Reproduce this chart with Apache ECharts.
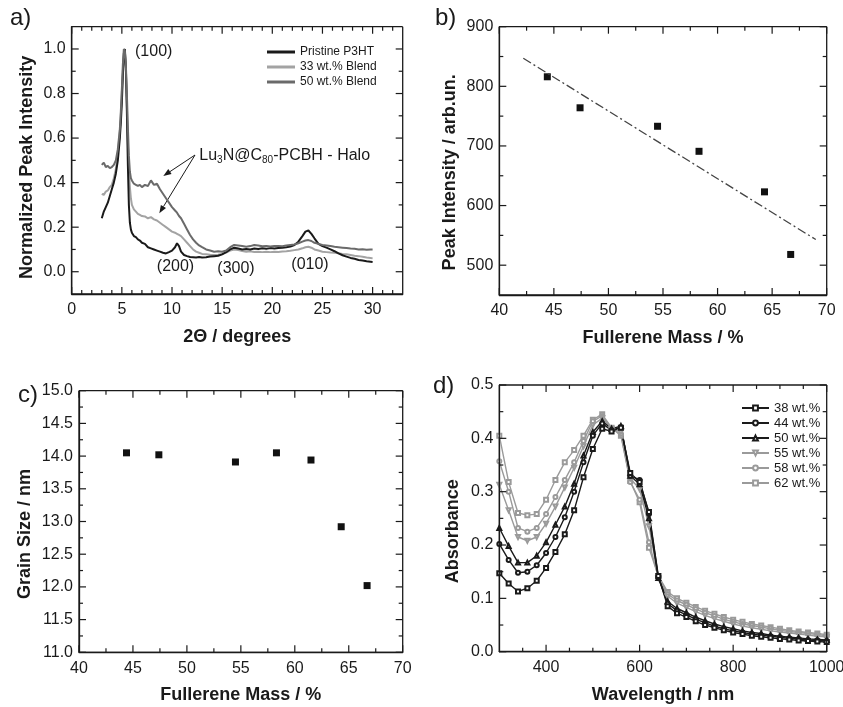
<!DOCTYPE html>
<html><head><meta charset="utf-8">
<script src="https://cdn.jsdelivr.net/npm/echarts@6/dist/echarts.min.js"></script>
<style>html,body{margin:0;padding:0;background:#fff}#chart{width:843px;height:707px}</style>
</head><body><div id="chart"></div>
<script>
// ---------- Panel a: XRD ----------
const twoTheta = [3.0,3.2,3.4,3.6,3.8,4.0,4.2,4.4,4.6,4.8,
  4.9,5.0,5.1,5.2,5.3,5.4,5.5,5.6,5.7,5.8,5.9,6.0,
  6.2,6.4,6.6,6.8,7.0,
  7.3,7.6,7.9,8.2,8.5,8.8,9.1,9.4,9.7,10.0,
  10.3,10.5,10.7,10.9,
  11.2,11.5,11.8,12.1,12.4,12.7,13.0,
  13.4,13.8,14.2,14.6,15.0,15.4,15.8,16.2,16.6,17.0,17.4,17.8,18.2,18.6,19.0,19.4,19.8,20.2,20.6,21.0,21.4,21.8,22.2,22.6,23.0,
  23.3,23.6,23.9,24.2,
  24.6,25.0,25.4,25.8,26.2,26.6,27.0,27.4,27.8,28.2,28.6,29.0,29.4,29.8,30.0];
const pristineP3HT = [0.24,0.27,0.29,0.31,0.34,0.37,0.40,0.44,0.50,0.60,
  0.67,0.76,0.88,0.98,1.0,0.92,0.72,0.48,0.30,0.22,0.19,0.175,
  0.16,0.155,0.145,0.14,0.13,
  0.125,0.11,0.105,0.10,0.095,0.09,0.085,0.082,0.088,0.095,
  0.11,0.128,0.115,0.09,
  0.075,0.07,0.066,0.065,0.064,0.066,0.064,
  0.065,0.068,0.07,0.072,0.078,0.088,0.10,0.108,0.104,0.10,0.102,0.10,0.104,0.102,0.105,0.103,0.106,0.104,0.107,0.108,0.11,0.113,0.12,0.135,0.16,
  0.18,0.185,0.17,0.15,
  0.125,0.115,0.108,0.10,0.092,0.082,0.074,0.068,0.062,0.058,0.053,0.05,0.047,0.045,0.044];
const blend33 = [0.35,0.345,0.36,0.365,0.38,0.39,0.42,0.46,0.53,0.63,
  0.70,0.80,0.90,0.97,0.98,0.90,0.75,0.58,0.46,0.38,0.33,0.30,
  0.28,0.27,0.26,0.255,0.25,
  0.248,0.24,0.245,0.235,0.23,0.22,0.21,0.20,0.19,0.18,
  0.175,0.17,0.165,0.16,
  0.145,0.13,0.115,0.10,0.09,0.085,0.08,
  0.078,0.076,0.075,0.076,0.08,0.086,0.095,0.10,0.097,0.093,0.09,0.092,0.089,0.09,0.088,0.09,0.088,0.09,0.089,0.091,0.092,0.094,0.097,0.10,0.105,
  0.11,0.112,0.108,0.10,
  0.095,0.09,0.088,0.086,0.085,0.083,0.08,0.078,0.075,0.072,0.07,0.067,0.064,0.062,0.06];
const blend50 = [0.48,0.49,0.47,0.475,0.465,0.47,0.48,0.50,0.55,0.64,
  0.72,0.82,0.93,1.0,0.99,0.93,0.80,0.65,0.52,0.45,0.42,0.41,
  0.395,0.39,0.385,0.39,0.38,
  0.39,0.385,0.41,0.39,0.395,0.37,0.35,0.33,0.31,0.29,
  0.275,0.265,0.25,0.24,
  0.215,0.19,0.165,0.145,0.13,0.118,0.11,
  0.10,0.095,0.09,0.092,0.09,0.095,0.11,0.12,0.118,0.115,0.112,0.115,0.12,0.118,0.114,0.116,0.113,0.115,0.116,0.114,0.118,0.12,0.122,0.128,0.135,
  0.14,0.142,0.138,0.13,
  0.125,0.12,0.118,0.115,0.112,0.11,0.108,0.106,0.104,0.103,0.10,0.101,0.099,0.10,0.10];
const xrdNames = ['Pristine P3HT', '33 wt.% Blend', '50 wt.% Blend'];
const peakLabels = ['(100)', '(200)', '(300)', '(010)'];

// ---------- Panel b ----------
const massB = [44.4, 47.4, 54.5, 58.3, 64.3, 66.7];
const peakIntensity = [816, 764, 733, 691, 623, 518];
const fitMass = [42.2, 69.0];
const fitIntensity = [847, 543];

// ---------- Panel c ----------
const massC = [44.4, 47.4, 54.5, 58.3, 61.5, 64.3, 66.7];
const grainSize = [14.05, 14.02, 13.91, 14.05, 13.94, 12.92, 12.02];

// ---------- Panel d ----------
const wavelength = [300,320,340,360,380,400,420,440,460,480,500,520,540,560,580,600,620,640,
  660,680,700,720,740,760,780,800,820,840,860,880,900,920,940,960,980,1000];
const abs38 = [0.147,0.128,0.113,0.119,0.133,0.157,0.187,0.220,0.265,0.327,0.380,0.418,0.413,0.420,0.335,0.318,0.262,0.142,
  0.085,0.072,0.065,0.057,0.050,0.045,0.040,0.036,0.033,0.030,0.028,0.026,0.024,0.023,0.021,0.020,0.019,0.018];
const abs44 = [0.202,0.172,0.148,0.150,0.162,0.185,0.215,0.252,0.300,0.355,0.405,0.428,0.415,0.421,0.330,0.322,0.258,0.140,
  0.090,0.077,0.069,0.061,0.054,0.048,0.043,0.039,0.036,0.033,0.031,0.029,0.027,0.025,0.024,0.022,0.021,0.020];
const abs50 = [0.232,0.198,0.167,0.167,0.180,0.205,0.238,0.272,0.315,0.368,0.412,0.432,0.418,0.423,0.330,0.314,0.250,0.138,
  0.094,0.081,0.073,0.065,0.058,0.052,0.047,0.043,0.039,0.036,0.034,0.031,0.029,0.027,0.026,0.024,0.023,0.022];
const abs55 = [0.313,0.265,0.215,0.208,0.215,0.240,0.272,0.308,0.345,0.385,0.425,0.438,0.418,0.412,0.325,0.305,0.235,0.138,
  0.104,0.091,0.083,0.075,0.068,0.062,0.057,0.052,0.048,0.045,0.042,0.039,0.037,0.035,0.033,0.031,0.029,0.028];
const abs58 = [0.357,0.300,0.232,0.225,0.232,0.258,0.290,0.322,0.355,0.395,0.432,0.442,0.418,0.408,0.318,0.285,0.205,0.140,
  0.108,0.096,0.088,0.080,0.073,0.067,0.061,0.056,0.052,0.049,0.046,0.043,0.040,0.038,0.036,0.034,0.032,0.030];
const abs62 = [0.405,0.318,0.260,0.256,0.258,0.285,0.322,0.355,0.378,0.405,0.435,0.445,0.420,0.405,0.320,0.280,0.195,0.142,
  0.112,0.100,0.092,0.084,0.077,0.071,0.065,0.060,0.056,0.052,0.049,0.046,0.043,0.040,0.038,0.036,0.034,0.032];
const uvNames = ['38 wt.%', '44 wt.%', '50 wt.%', '55 wt.%', '58 wt.%', '62 wt.%'];

// ---------- Tick values ----------
const aXMajor = [0,5,10,15,20,25,30];
const aXMinor = [1,2,3,4,6,7,8,9,11,12,13,14,16,17,18,19,21,22,23,24,26,27,28,29,31,32];
const aYMajor = [0,0.2,0.4,0.6,0.8,1.0];
const aYMinor = [0.1,0.3,0.5,0.7,0.9];
const massMajor = [40,45,50,55,60,65,70];
const massMinor = [42.5,47.5,52.5,57.5,62.5,67.5];
const bYMajor = [500,600,700,800,900];
const bYMinor = [550,650,750,850];
const cYMajor = [11,11.5,12,12.5,13,13.5,14,14.5,15];
const cYMinor = [11.25,11.75,12.25,12.75,13.25,13.75,14.25,14.75];
const dXMajor = [400,600,800,1000];
const dXMinor = [350,450,500,550,650,700,750,850,900,950];
const dYMajor = [0,0.1,0.2,0.3,0.4,0.5];
const dYMinor = [0.05,0.15,0.25,0.35,0.45];

// ---------- Build ----------
const FONT = '"Liberation Sans", Arial, Helvetica, sans-serif';
const INK = '#1a1a1a';
const GRAY_L = '#a3a3a3';
const GRAY_D = '#6a6a6a';
const GRAY_UV = '#9a9a9a';
const pairs = (xs, ys) => xs.map((x, i) => [x, ys[i]]);

const xAxes = [], yAxes = [];
function buildAxis(list, grid, horiz, c) {
  list.push({
    type: 'value', gridIndex: grid, min: c.min, max: c.max, position: horiz ? 'bottom' : 'left',
    splitLine: { show: false },
    axisLine: { show: true, onZero: false, lineStyle: { color: INK, width: 1.3 } },
    axisTick: { show: false },
    name: c.name, nameLocation: 'middle', nameGap: c.nameGap,
    nameTextStyle: { fontFamily: FONT, fontSize: 18, fontWeight: 'bold', color: INK, padding: c.namePad || 0 },
    axisLabel: { show: true, customValues: c.majors,
      formatter: v => c.dec ? Number(v).toFixed(c.dec) : String(Math.round(v)),
      fontFamily: FONT, fontSize: 16, color: INK, margin: horiz ? 8 : 6 }
  });
  return list.length - 1;
}

const grids = [
  { left: 71.7, top: 26.7, width: 331, height: 267.3 },
  { left: 499.3, top: 26.7, width: 327.4, height: 268.3 },
  { left: 79, top: 390.7, width: 323.7, height: 261.6 },
  { left: 499.3, top: 385, width: 327.4, height: 266.7 }
].map(g => Object.assign({ outerBoundsMode: 'none' }, g));

const panels = [
  { x: { min: 0, max: 33, majors: aXMajor, minors: aXMinor, name: '2\u0398 / degrees', nameGap: 34 },
    y: { min: -0.1, max: 1.1, majors: aYMajor, minors: aYMinor, dec: 1, name: 'Normalized Peak Intensity', nameGap: 36, namePad: [0, 14, 0, 0] } },
  { x: { min: 40, max: 70, majors: massMajor, minors: massMinor, name: 'Fullerene Mass / %', nameGap: 34 },
    y: { min: 450, max: 900, majors: bYMajor, minors: bYMinor, name: 'Peak Intensity / arb.un.', nameGap: 40, namePad: [0, 23, 0, 0] } },
  { x: { min: 40, max: 70, majors: massMajor, minors: massMinor, name: 'Fullerene Mass / %', nameGap: 34 },
    y: { min: 11, max: 15, majors: cYMajor, minors: cYMinor, dec: 1, name: 'Grain Size / nm', nameGap: 45, namePad: [0, 25, 0, 0] } },
  { x: { min: 300, max: 1000, majors: dXMajor, minors: dXMinor, name: 'Wavelength / nm', nameGap: 34 },
    y: { min: 0, max: 0.5, majors: dYMajor, minors: dYMinor, dec: 1, name: 'Absorbance', nameGap: 37, namePad: [0, 26, 0, 0] } }
];
const axisIdx = panels.map((p, g) => ({ x: buildAxis(xAxes, g, true, p.x), y: buildAxis(yAxes, g, false, p.y) }));

const series = [];
// frame + ticks for each panel, drawn through the panel's own scales
function frameRender(params, api) {
  const v = api.value(0), kind = api.value(1);
  const cs = params.coordSys;
  const L = (kind === 0 || kind === 2) ? 7 : 4;
  const st = { stroke: INK, lineWidth: kind === 4 ? 1.3 : 1.2 };
  const x0 = cs.x, x1 = cs.x + cs.width, y0 = cs.y, y1 = cs.y + cs.height;
  if (kind === 4) {
    return { type: 'group', children: [
      { type: 'line', shape: { x1: x0, y1: y0, x2: x1, y2: y0 }, style: st },
      { type: 'line', shape: { x1: x1, y1: y0, x2: x1, y2: y1 }, style: st },
      { type: 'line', shape: { x1: x0, y1: y1, x2: x1, y2: y1 }, style: st },
      { type: 'line', shape: { x1: x0, y1: y0, x2: x0, y2: y1 }, style: st }
    ] };
  }
  if (kind <= 1) {
    const px = api.coord([v, 0])[0];
    return { type: 'group', children: [
      { type: 'line', shape: { x1: px, y1: y1, x2: px, y2: y1 - L }, style: st },
      { type: 'line', shape: { x1: px, y1: y0, x2: px, y2: y0 + L }, style: st }
    ] };
  }
  const py = api.coord([0, v])[1];
  return { type: 'group', children: [
    { type: 'line', shape: { x1: x0, y1: py, x2: x0 + L, y2: py }, style: st },
    { type: 'line', shape: { x1: x1, y1: py, x2: x1 - L, y2: py }, style: st }
  ] };
}
panels.forEach((p, g) => {
  const items = [].concat(
    p.x.majors.map(v => [v, 0]), p.x.minors.map(v => [v, 1]),
    p.y.majors.map(v => [v, 2]), p.y.minors.map(v => [v, 3]), [[0, 4]]);
  series.push({
    type: 'custom', name: 'frame' + g, xAxisIndex: axisIdx[g].x, yAxisIndex: axisIdx[g].y,
    renderItem: frameRender, data: items, silent: true, clip: false, z: 6, tooltip: { show: false }
  });
});

// Panel a
const xrdData = [pristineP3HT, blend33, blend50];
const xrdColors = [INK, GRAY_L, GRAY_D];
[1, 0, 2].forEach(i => {
  series.push({
    type: 'line', name: xrdNames[i], xAxisIndex: axisIdx[0].x, yAxisIndex: axisIdx[0].y,
    data: pairs(twoTheta, xrdData[i]), symbol: 'none',
    lineStyle: { color: xrdColors[i], width: 2 }, itemStyle: { color: xrdColors[i] }
  });
});
// Panel b
series.push({
  type: 'line', name: 'fit', xAxisIndex: axisIdx[1].x, yAxisIndex: axisIdx[1].y, data: pairs(fitMass, fitIntensity),
  symbol: 'none', lineStyle: { color: '#444', width: 1.3, type: [9, 3, 2, 3] }
});
series.push({
  type: 'scatter', name: 'Peak Intensity', xAxisIndex: axisIdx[1].x, yAxisIndex: axisIdx[1].y, data: pairs(massB, peakIntensity),
  symbol: 'rect', symbolSize: 7, itemStyle: { color: '#111', opacity: 1 }
});
// Panel c
series.push({
  type: 'scatter', name: 'Grain Size', xAxisIndex: axisIdx[2].x, yAxisIndex: axisIdx[2].y, data: pairs(massC, grainSize),
  symbol: 'rect', symbolSize: 7, itemStyle: { color: '#111', opacity: 1 }
});
// Panel d
const uvData = [abs38, abs44, abs50, abs55, abs58, abs62];
const uvSymbols = ['emptyRect', 'emptyCircle', 'emptyTriangle', 'emptyTriangle', 'emptyCircle', 'emptyRect'];
const uvRotate = [0, 0, 0, 180, 0, 0];
const uvColors = [INK, INK, INK, GRAY_UV, GRAY_UV, GRAY_UV];
[5, 4, 3, 2, 1, 0].forEach(i => {
  series.push({
    type: 'line', name: uvNames[i], xAxisIndex: axisIdx[3].x, yAxisIndex: axisIdx[3].y, data: pairs(wavelength, uvData[i]),
    symbol: uvSymbols[i], symbolRotate: uvRotate[i], symbolSize: 4, showSymbol: true, showAllSymbol: true,
    lineStyle: { color: uvColors[i], width: 1.4 }, itemStyle: { color: uvColors[i], borderWidth: 1 }
  });
});

// annotation texts and arrows (panel a)
const txt = (x, y, t, size) => ({ type: 'text', x: x, y: y, silent: true,
  style: { text: t, fontFamily: FONT, fontSize: size, fill: INK, align: 'center', verticalAlign: 'middle' } });
const annotations = [
  txt(153.7, 52, peakLabels[0], 16), txt(175.5, 266.7, peakLabels[1], 16),
  txt(236, 268.3, peakLabels[2], 16), txt(310, 265, peakLabels[3], 16),
  { type: 'text', x: 199.3, y: 147, silent: true, style: {
      text: '{n|Lu}{s|3}{n|N@C}{s|80}{n|-PCBH - Halo}', fill: INK,
      rich: { n: { fontFamily: FONT, fontSize: 16, fill: INK, lineHeight: 18 },
              s: { fontFamily: FONT, fontSize: 10, fill: INK, lineHeight: 6, verticalAlign: 'bottom' } } } },
  { type: 'line', silent: true, shape: { x1: 195, y1: 155, x2: 170, y2: 171.6 }, style: { stroke: INK, lineWidth: 1 } },
  { type: 'polygon', silent: true, shape: { points: [[163.3, 176], [171.6, 174.1], [168.3, 169.1]] }, style: { fill: INK } },
  { type: 'line', silent: true, shape: { x1: 195, y1: 155, x2: 163.5, y2: 206.5 }, style: { stroke: INK, lineWidth: 1 } },
  { type: 'polygon', silent: true, shape: { points: [[159.3, 213.3], [166.0, 208.1], [160.9, 204.9]] }, style: { fill: INK } }
];

const option = {
  animation: false,
  backgroundColor: '#fff',
  grid: grids,
  xAxis: xAxes,
  yAxis: yAxes,
  legend: [
    { data: xrdNames, orient: 'vertical', left: 267, top: 45, padding: 0, icon: 'rect', itemWidth: 28, itemHeight: 3, itemGap: 1,
      selectedMode: false, textStyle: { fontFamily: FONT, fontSize: 12, color: INK, lineHeight: 14 } },
    { data: uvNames, orient: 'vertical', left: 741, top: 401, padding: 0, itemWidth: 27, itemHeight: 6, itemGap: 1,
      selectedMode: false, textStyle: { fontFamily: FONT, fontSize: 13, color: INK, lineHeight: 14 } }
  ],
  graphic: [
    { type: 'text', left: 10, top: 6, style: { text: 'a)', fontFamily: FONT, fontSize: 24, fill: INK } },
    { type: 'text', left: 435, top: 6, style: { text: 'b)', fontFamily: FONT, fontSize: 24, fill: INK } },
    { type: 'text', left: 18, top: 383, style: { text: 'c)', fontFamily: FONT, fontSize: 24, fill: INK } },
    { type: 'text', left: 433, top: 374, style: { text: 'd)', fontFamily: FONT, fontSize: 24, fill: INK } }
  ].concat(annotations),
  series: series
};

const chart = echarts.init(document.getElementById('chart'), null, { renderer: 'canvas' });
chart.setOption(option);
</script></body></html>
